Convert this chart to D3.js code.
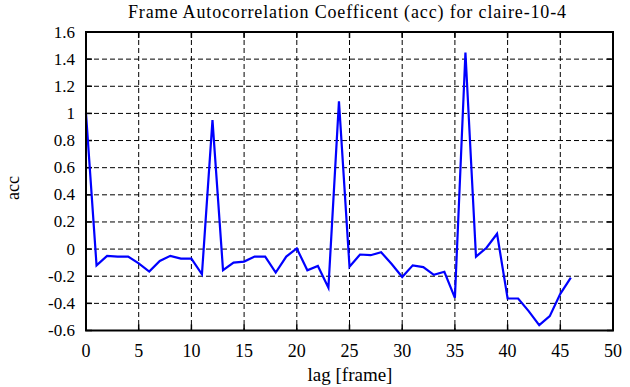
<!DOCTYPE html>
<html><head><meta charset="utf-8">
<script src="https://cdn.jsdelivr.net/npm/d3@7"></script>
<style>body{margin:0;background:#fff;}svg{display:block;}</style>
</head><body>
<script>
const lags = d3.range(0, 47);
const acc = [1.0, -0.12, -0.05, -0.055, -0.055, -0.105, -0.166, -0.087, -0.05, -0.07,
  -0.07, -0.186, 0.95, -0.156, -0.1, -0.092, -0.055, -0.055, -0.173, -0.055,
  0.005, -0.156, -0.124, -0.284, 1.089, -0.13, -0.04, -0.045, -0.023, -0.11,
  -0.206, -0.12, -0.133, -0.19, -0.167, -0.359, 1.449, -0.056, 0.01, 0.113,
  -0.364, -0.364, -0.457, -0.56, -0.494, -0.33, -0.211];
const xTicks = [0, 5, 10, 15, 20, 25, 30, 35, 40, 45, 50];
const yTicks = [-0.6, -0.4, -0.2, 0, 0.2, 0.4, 0.6, 0.8, 1, 1.2, 1.4, 1.6];
const title = "Frame Autocorrelation Coefficent (acc) for claire-10-4";
const xLabel = "lag [frame]";
const yLabel = "acc";

const FONT = "'Liberation Serif','Times New Roman',serif";
const W = 630, H = 387;
const L = 86, R = 613, T = 32, B = 330.5;
const svg = d3.select("body").append("svg").attr("width", W).attr("height", H)
  .style("font-family", FONT);
const x = d3.scaleLinear().domain([0, 50]).range([L, R]);
const y = d3.scaleLinear().domain([-0.6, 1.6]).range([B, T]);

// grid
const g = svg.append("g");
g.selectAll(".gx").data(xTicks.slice(1, -1)).enter().append("line")
  .attr("x1", d => x(d)).attr("x2", d => x(d)).attr("y1", T).attr("y2", B)
  .attr("stroke", "#000").attr("stroke-width", 1).attr("stroke-dasharray", "5,3");
g.selectAll(".gy").data(yTicks.slice(1, -1)).enter().append("line")
  .attr("y1", d => y(d)).attr("y2", d => y(d)).attr("x1", L).attr("x2", R)
  .attr("stroke", "#000").attr("stroke-width", 1).attr("stroke-dasharray", "5,3");

// inward ticks on all sides
const tl = 6;
g.selectAll(".tb").data(xTicks).enter().append("line")
  .attr("x1", d => x(d)).attr("x2", d => x(d)).attr("y1", B).attr("y2", B - tl)
  .attr("stroke", "#000").attr("stroke-width", 1.5);
g.selectAll(".tt").data(xTicks).enter().append("line")
  .attr("x1", d => x(d)).attr("x2", d => x(d)).attr("y1", T).attr("y2", T + tl)
  .attr("stroke", "#000").attr("stroke-width", 1.5);
g.selectAll(".tl").data(yTicks).enter().append("line")
  .attr("y1", d => y(d)).attr("y2", d => y(d)).attr("x1", L).attr("x2", L + tl)
  .attr("stroke", "#000").attr("stroke-width", 1.5);
g.selectAll(".tr").data(yTicks).enter().append("line")
  .attr("y1", d => y(d)).attr("y2", d => y(d)).attr("x1", R).attr("x2", R - tl)
  .attr("stroke", "#000").attr("stroke-width", 1.5);

// data line
const line = d3.line().x((d, i) => x(lags[i])).y(d => y(d));
svg.append("path").datum(acc).attr("d", line)
  .attr("fill", "none").attr("stroke", "#0000ff").attr("stroke-width", 2.2)
  .attr("stroke-linejoin", "miter");

// frame
svg.append("rect").attr("x", L).attr("y", T).attr("width", R - L).attr("height", B - T)
  .attr("fill", "none").attr("stroke", "#000").attr("stroke-width", 2);

// tick labels
svg.selectAll(".xl").data(xTicks).enter().append("text")
  .attr("x", d => x(d)).attr("y", 357).attr("text-anchor", "middle")
  .attr("font-size", 18).text(d => d);
svg.selectAll(".yl").data(yTicks).enter().append("text")
  .attr("x", 75).attr("y", d => y(d) + 5.5).attr("text-anchor", "end")
  .attr("font-size", 17).text(d => String(+d.toFixed(1)));

svg.append("text").attr("x", 350).attr("y", 381).attr("text-anchor", "middle")
  .attr("font-size", 19).text(xLabel);
svg.append("text").attr("transform", "translate(19,188) rotate(-90)")
  .attr("text-anchor", "middle").attr("font-size", 18).text(yLabel);
svg.append("text").attr("x", 128).attr("y", 18)
  .attr("font-size", 18).attr("textLength", 438).attr("lengthAdjust", "spacing")
  .text(title);
</script>
</body></html>
